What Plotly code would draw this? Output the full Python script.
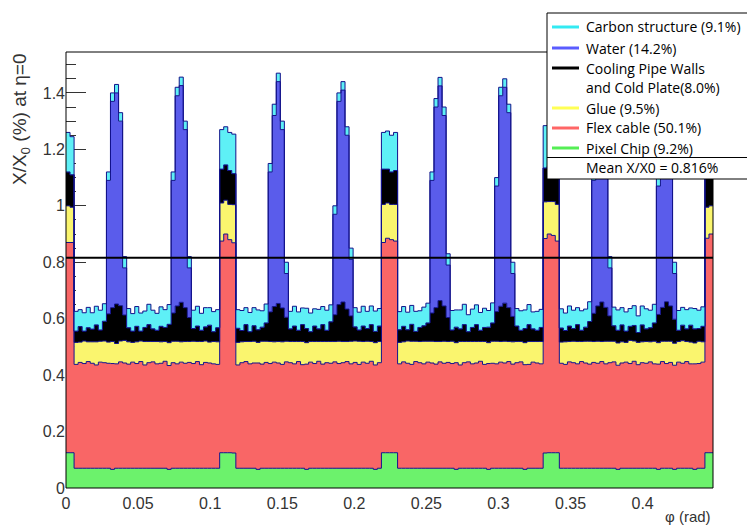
import numpy as np
import plotly.graph_objects as go

# ---------------- data ----------------
phi_max = 0.4488          # rad, right edge of the histogram
n_bins = 160
mean_value = 0.816        # Mean X/X0 (%)

pixel_chip = [
    .125,.125, .07,.07,.07,.07,.07,.07,.07,.07, .07,.066,.07,.07,.07, .07,.07,.07,.07,.07,.07,.07,.07,.07,.07,.066, .07,.07,.07,.07,.07, .07,.07,.07,.07,.07,.07,.07, .125,.125,
    .125,.124, .07,.07,.07,.07,.07,.066,.07,.07, .07,.07,.07,.07,.07, .07,.07,.07,.07,.066,.07,.07,.07,.07,.07,.07, .07,.07,.07,.07,.07, .07,.07,.07,.07,.07,.066,.07, .125,.125,
    .125,.125, .07,.07,.07,.07,.07,.07,.07,.07, .07,.07,.07,.07,.07, .07,.066,.07,.07,.07,.07,.07,.07,.07,.066,.07, .07,.07,.07,.07,.07, .07,.07,.066,.07,.07,.07,.07, .124,.125,
    .125,.125, .07,.07,.07,.07,.07,.07,.07,.07, .07,.07,.07,.07,.07, .07,.066,.07,.07,.07,.07,.07,.07,.07,.07,.07, .066,.07,.07,.07,.066, .07,.07,.07,.07,.066,.07,.07, .125,.125,
]

flex_cable = [
    .745,.745, .368,.375,.371,.378,.372,.366,.376,.374, .372,.375,.370,.377,.373, .369,.376,.371,.378,.366,.374,.377,.370,.372,.379,.368, .374,.370,.376,.372,.375, .371,.378,.367,.375,.373,.370,.368, .750,.775,
    .755,.745, .366,.374,.378,.370,.373,.377,.369,.375, .371,.376,.373,.368,.377, .374,.370,.378,.367,.373,.376,.371,.379,.369,.374,.372, .377,.371,.374,.378,.370, .375,.368,.376,.372,.379,.370,.374, .745,.760,
    .755,.750, .370,.377,.372,.368,.378,.374,.370,.376, .373,.369,.377,.372,.375, .371,.378,.366,.374,.377,.370,.373,.379,.368,.375,.372, .370,.376,.373,.378,.369, .374,.377,.371,.368,.376,.373,.370, .760,.775,
    .770,.750, .372,.368,.377,.374,.370,.378,.373,.369, .375,.372,.378,.370,.374, .377,.369,.373,.376,.371,.379,.367,.374,.372,.377,.370, .373,.378,.371,.375,.369, .376,.372,.378,.370,.374,.371,.376, .760,.775,
]

glue = [
    .130,.125, .078,.072,.080,.070,.076,.082,.074,.077, .075,.078,.072,.074,.080, .079,.070,.077,.073,.083,.075,.072,.079,.076,.070,.081, .076,.080,.072,.077,.074, .079,.071,.082,.076,.074,.079,.080, .135,.120,
    .125,.135, .080,.074,.071,.079,.077,.073,.081,.075, .078,.072,.076,.080,.073, .075,.079,.071,.082,.076,.073,.078,.070,.080,.075,.077, .072,.079,.075,.071,.080, .076,.082,.073,.078,.070,.079,.075, .135,.125,
    .125,.130, .076,.071,.079,.082,.072,.075,.080,.074, .077,.080,.072,.078,.074, .079,.071,.083,.075,.072,.079,.076,.070,.081,.074,.078, .080,.073,.077,.071,.079, .075,.072,.078,.081,.073,.076,.079, .130,.115,
    .120,.130, .075,.080,.072,.076,.079,.071,.077,.081, .074,.078,.071,.080,.076, .073,.079,.075,.070,.082,.072,.079,.074,.077,.071,.080, .076,.072,.079,.075,.078, .073,.080,.071,.077,.074,.079,.072, .110,.100,
]

cooling = [
    .120,.115, .040,.055,.035,.050,.045,.060,.040,.070, .100,.120,.140,.125,.090, .050,.040,.055,.035,.050,.060,.045,.040,.055,.050,.065, .100,.125,.140,.120,.085, .045,.055,.040,.050,.060,.035,.050, .120,.125,
    .120,.110, .050,.040,.060,.035,.055,.045,.050,.065, .105,.125,.135,.120,.085, .045,.055,.040,.060,.050,.035,.055,.045,.060,.040,.070, .095,.130,.140,.115,.090, .050,.040,.055,.045,.060,.040,.055, .125,.120,
    .115,.120, .045,.055,.040,.060,.035,.050,.055,.065, .100,.120,.145,.125,.085, .040,.055,.045,.060,.035,.050,.060,.040,.050,.055,.065, .105,.125,.135,.120,.090, .055,.040,.050,.060,.045,.040,.050, .120,.125,
    .120,.120, .050,.040,.055,.045,.060,.040,.050,.070, .100,.125,.140,.120,.090, .055,.045,.060,.040,.050,.055,.035,.060,.045,.050,.065, .100,.120,.140,.125,.085, .040,.055,.045,.060,.050,.045,.055, .110,.100,
]

water = [
    0,0, 0,0,0,0,0,0,0,0, .473,.731,.748,.654,.167, 0,0,0,0,0,0,0,0,0,0,0, .470,.745,.768,.631,.176, 0,0,0,0,0,0,0, 0,0,
    0,0, 0,0,0,0,0,0,0,0, .496,.677,.786,.632,.155, 0,0,0,0,0,0,0,0,0,0,0, .356,.720,.751,.616,.200, 0,0,0,0,0,0,0, 0,0,
    0,0, 0,0,0,0,0,0,0,0, .470,.711,.761,.675,.186, 0,0,0,0,0,0,0,0,0,0,0, .445,.746,.765,.691,.152, 0,0,0,0,0,0,0, 0,0,
    0,0, 0,0,0,0,0,0,0,0, .471,.705,.731,.630,.170, 0,0,0,0,0,0,0,0,0,0,0, .455,.690,.710,.605,.162, 0,0,0,0,0,0,0, 0,0,
]

carbon = [
    .140,.135, .070,.060,.065,.072,.058,.066,.070,.062, .030,.030,.030,.030,.040, .068,.062,.070,.064,.058,.072,.066,.060,.069,.063,.070, .030,.030,.030,.030,.040, .065,.070,.060,.068,.062,.071,.064, .140,.135,
    .135,.140, .066,.071,.060,.068,.064,.070,.058,.067, .030,.040,.030,.030,.040, .062,.070,.065,.059,.072,.066,.061,.069,.064,.071,.060, .030,.030,.030,.030,.040, .068,.063,.070,.061,.066,.072,.062, .130,.135,
    .130,.135, .064,.070,.062,.067,.071,.059,.066,.070, .030,.030,.030,.030,.040, .069,.061,.067,.072,.060,.065,.070,.063,.068,.059,.071, .030,.030,.030,.030,.040, .062,.069,.066,.071,.060,.067,.064, .150,.145,
    .150,.140, .068,.062,.071,.065,.060,.069,.064,.070, .030,.030,.030,.030,.040, .066,.072,.061,.068,.063,.070,.059,.067,.071,.062,.066, .030,.030,.030,.030,.040, .070,.063,.068,.061,.072,.065,.069, .140,.140,
]

legend_labels = ["Carbon structure (9.1%)", "Water (14.2%)", "Cooling Pipe Walls",
                 "and Cold Plate(8.0%)", "Glue (9.5%)", "Flex cable (50.1%)",
                 "Pixel Chip (9.2%)", "Mean X/X0 = 0.816%"]

y_ticks = [0, 0.2, 0.4, 0.6, 0.8, 1, 1.2, 1.4]
x_ticks = [0, 0.05, 0.1, 0.15, 0.2, 0.25, 0.3, 0.35, 0.4]

# ---------------- styling ----------------
W, H = 747, 525
L, R, T, B = 66, 34, 52, 37
navy = "#12128a"
layers = [  # bottom -> top
    (pixel_chip, "#6cf26c"),
    (flex_cable, "#f96666"),
    (glue, "#faf56e"),
    (cooling, "#000000"),
    (water, "#5a5ceb"),
    (carbon, "#5ef0f6"),
]

edges = np.linspace(0, phi_max, n_bins + 1)

fig = go.Figure()
for vals, col in layers:
    fig.add_trace(go.Scatter(
        x=edges, y=list(vals) + [vals[-1]], mode="lines", stackgroup="s",
        line=dict(shape="hv", color=navy, width=1), fillcolor=col,
        hoverinfo="skip", showlegend=False))

fig.add_trace(go.Scatter(x=[0, phi_max], y=[mean_value, mean_value], mode="lines",
                         line=dict(color="black", width=2), hoverinfo="skip",
                         showlegend=False))

pw, ph = W - L - R, H - T - B
def px(x):
    return (x - L) / pw
def py(y):
    return (H - B - y) / ph

shapes = [dict(type="rect", xref="paper", yref="paper", x0=0, x1=1, y0=0, y1=1,
               line=dict(color="black", width=1), layer="above")]
# legend box
shapes.append(dict(type="rect", xref="paper", yref="paper", x0=px(547), x1=px(760),
                   y0=py(179), y1=py(13), fillcolor="white",
                   line=dict(color="black", width=1), layer="above"))
shapes.append(dict(type="line", xref="paper", yref="paper", x0=px(547), x1=px(760),
                   y0=py(157.5), y1=py(157.5), line=dict(color="black", width=1),
                   layer="above"))
legend_colors = ["#33eaf2", "#5a5cff", "#000000", None, "#ffff55", "#ff6666", "#55ee55", None]
rows = [27, 48, 68, 88, 108, 128, 148, 167]
annotations = []
for lab, col, r in zip(legend_labels, legend_colors, rows):
    if col:
        shapes.append(dict(type="line", xref="paper", yref="paper", x0=px(552), x1=px(579),
                           y0=py(r), y1=py(r), line=dict(color=col, width=3), layer="above"))
    annotations.append(dict(text=lab, xref="paper", yref="paper", x=px(584), y=py(r),
                            xanchor="left", yanchor="middle", showarrow=False,
                            font=dict(family="Open Sans", size=14, color="black")))

annotations.append(dict(text="X/X<sub>0</sub> (%) at η=0", xref="paper", yref="paper",
                        x=px(21), y=py(119), xanchor="center", yanchor="middle",
                        textangle=-90, showarrow=False,
                        font=dict(family="Liberation Sans", size=19, color="#333")))
annotations.append(dict(text="φ (rad)", xref="paper", yref="paper",
                        x=px(713), y=py(516), xanchor="right", yanchor="middle",
                        showarrow=False,
                        font=dict(family="Liberation Sans", size=15, color="#333")))

fig.update_layout(
    width=W, height=H, margin=dict(l=L, r=R, t=T, b=B, autoexpand=False),
    paper_bgcolor="white", plot_bgcolor="white",
    shapes=shapes, annotations=annotations, showlegend=False,
    xaxis=dict(range=[0, phi_max], tickvals=x_ticks, ticks="", showgrid=False,
               zeroline=False, showline=False, automargin=False, ticklabelstandoff=4,
               tickfont=dict(family="Liberation Sans", size=16, color="#333")),
    yaxis=dict(range=[0, 1.545], tickvals=y_ticks, ticks="inside", ticklen=20,
               tickcolor="#333", showgrid=False, zeroline=False, showline=False,
               layer="below traces", automargin=False,
               minor=dict(dtick=0.05, tick0=0, ticks="inside", ticklen=10,
                          tickcolor="#333", showgrid=False),
               tickfont=dict(family="Liberation Sans", size=16, color="#333")),
)

fig.write_html("out.html", config={"displayModeBar": False},
               post_script="document.body.style.margin='0px';")
